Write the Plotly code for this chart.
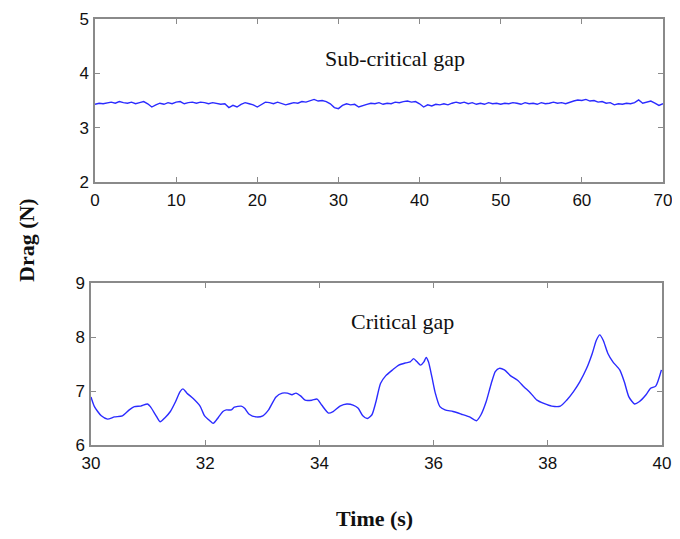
import plotly.graph_objects as go

# ---- Data ----
drag_top = [
    3.43, 3.45, 3.44, 3.46, 3.47, 3.45, 3.48, 3.46, 3.45, 3.47,
    3.44, 3.46, 3.48, 3.44, 3.38, 3.42, 3.45, 3.43, 3.46, 3.44,
    3.47, 3.48, 3.44, 3.46, 3.47, 3.45, 3.47, 3.46, 3.44, 3.46,
    3.45, 3.43, 3.44, 3.37, 3.41, 3.38, 3.43, 3.46, 3.44, 3.42,
    3.38, 3.43, 3.47, 3.46, 3.44, 3.47, 3.45, 3.42, 3.44, 3.46,
    3.45, 3.48, 3.47, 3.50, 3.52, 3.49, 3.50, 3.48, 3.44, 3.37,
    3.35, 3.41, 3.44, 3.42, 3.43, 3.38, 3.41, 3.43, 3.45, 3.44,
    3.46, 3.43, 3.45, 3.44, 3.47, 3.46, 3.48, 3.49, 3.47, 3.48,
    3.44, 3.38, 3.42, 3.40, 3.43, 3.42, 3.44, 3.42, 3.45, 3.47,
    3.45, 3.47, 3.44, 3.46, 3.43, 3.45, 3.43, 3.46, 3.44, 3.45,
    3.43, 3.45, 3.44, 3.46, 3.45, 3.43, 3.46, 3.44, 3.45, 3.43,
    3.46, 3.44, 3.45, 3.47, 3.45, 3.46, 3.44, 3.47, 3.49, 3.51,
    3.50, 3.52, 3.49, 3.50, 3.47, 3.48, 3.45, 3.46, 3.42, 3.44,
    3.43, 3.45, 3.44, 3.46, 3.51, 3.45, 3.47, 3.49, 3.45, 3.41,
    3.44,
]
time_top = [i * 0.5 for i in range(len(drag_top))]

time_bottom = [
    30.00, 30.06, 30.18, 30.29, 30.41, 30.55, 30.67, 30.76, 30.87, 30.99,
    31.04, 31.13, 31.21, 31.30, 31.39, 31.48, 31.56, 31.61, 31.68, 31.79,
    31.91, 31.99, 32.08, 32.14, 32.23, 32.31, 32.37, 32.46, 32.51, 32.63,
    32.69, 32.77, 32.89, 33.01, 33.11, 33.24, 33.35, 33.44, 33.52, 33.59,
    33.67, 33.75, 33.87, 33.96, 34.04, 34.16, 34.24, 34.36, 34.48, 34.59,
    34.68, 34.76, 34.84, 34.92, 34.99, 35.07, 35.16, 35.28, 35.39, 35.51,
    35.59, 35.65, 35.71, 35.77, 35.83, 35.87, 35.91, 35.97, 36.03, 36.11,
    36.20, 36.34, 36.49, 36.63, 36.75, 36.83, 36.92, 37.01, 37.08, 37.15,
    37.24, 37.35, 37.47, 37.58, 37.70, 37.81, 37.93, 38.07, 38.22, 38.33,
    38.45, 38.56, 38.68, 38.78, 38.85, 38.91, 38.97, 39.05, 39.14, 39.26,
    39.34, 39.42, 39.52, 39.60, 39.72, 39.80, 39.89, 39.99,
]
drag_bottom = [
    6.89, 6.71, 6.54, 6.48, 6.52, 6.54, 6.65, 6.71, 6.72, 6.76,
    6.71, 6.56, 6.43, 6.51, 6.62, 6.80, 6.99, 7.04, 6.96, 6.86,
    6.72, 6.54, 6.45, 6.40, 6.51, 6.62, 6.65, 6.65, 6.70, 6.72,
    6.68, 6.57, 6.52, 6.54, 6.65, 6.89, 6.96, 6.96, 6.93, 6.96,
    6.91, 6.83, 6.83, 6.85, 6.74, 6.59, 6.62, 6.72, 6.76, 6.74,
    6.68, 6.54, 6.49, 6.56, 6.80, 7.14, 7.28, 7.39, 7.48, 7.52,
    7.54, 7.60, 7.54, 7.48, 7.54, 7.62, 7.54, 7.26, 6.96, 6.71,
    6.65, 6.62, 6.57, 6.52, 6.45, 6.56, 6.80, 7.14, 7.36, 7.42,
    7.39, 7.28, 7.20, 7.08, 6.96, 6.83, 6.77, 6.72, 6.72, 6.83,
    6.99, 7.17, 7.42, 7.70, 7.94, 8.04, 7.94, 7.70, 7.54, 7.39,
    7.17, 6.89, 6.76, 6.80, 6.93, 7.05, 7.09, 7.39,
]

top_xticks = [0, 10, 20, 30, 40, 50, 60, 70]
top_yticks = [2, 3, 4, 5]
bottom_xticks = [30, 32, 34, 36, 38, 40]
bottom_yticks = [6, 7, 8, 9]

W, H = 664, 523
OFF = 8  # page body margin


def px(x):
    return (x - OFF) / W


def py(y):
    return 1 - (y - OFF) / H


LINE = "#2b2bff"
SERIF = "Liberation Serif, Times New Roman, serif"

fig = go.Figure()
fig.add_trace(go.Scatter(x=time_top, y=drag_top, mode="lines",
                         line=dict(color=LINE, width=1.4), xaxis="x", yaxis="y",
                         showlegend=False))
fig.add_trace(go.Scatter(x=time_bottom, y=drag_bottom, mode="lines",
                         line=dict(color=LINE, width=1.4, shape="spline", smoothing=0.6),
                         xaxis="x2", yaxis="y2", showlegend=False))

tickfont = dict(family="Liberation Sans, Arial", size=17, color="#111")
common = dict(showline=True, linecolor="#8a8a8a", linewidth=1.5, mirror="ticks",
              ticks="inside", ticklen=5, tickcolor="#8a8a8a", tickwidth=1,
              showgrid=False, zeroline=False, tickfont=tickfont, automargin=False,
              ticklabeloverflow="allow")

fig.update_layout(
    width=W, height=H,
    margin=dict(l=0, r=0, t=0, b=0, pad=0),
    plot_bgcolor="white", paper_bgcolor="white",
    xaxis=dict(domain=[px(95), px(663)], range=[0, 70], tickvals=top_xticks,
               anchor="y", ticklabelstandoff=2, **common),
    yaxis=dict(domain=[py(182), py(19)], range=[2, 5], tickvals=top_yticks,
               anchor="x", ticklabelstandoff=1, **common),
    xaxis2=dict(domain=[px(91), px(662)], range=[30, 40], tickvals=bottom_xticks,
                anchor="y2", ticklabelstandoff=2, **common),
    yaxis2=dict(domain=[py(445), py(283)], range=[6, 9], tickvals=bottom_yticks,
                anchor="x2", ticklabelstandoff=1, **common),
    annotations=[
        dict(text="Sub-critical gap", x=px(395), y=py(58), xref="paper", yref="paper",
             xanchor="center", yanchor="middle", showarrow=False,
             font=dict(family=SERIF, size=22, color="#111")),
        dict(text="Critical gap", x=px(402), y=py(321), xref="paper", yref="paper",
             xanchor="center", yanchor="middle", showarrow=False,
             font=dict(family=SERIF, size=22, color="#111")),
        dict(text="<b>Drag (N)</b>", x=px(26), y=py(240), xref="paper", yref="paper",
             xanchor="center", yanchor="middle", showarrow=False, textangle=-90,
             font=dict(family=SERIF, size=22, color="#111")),
        dict(text="<b>Time (s)</b>", x=px(374), y=py(518), xref="paper", yref="paper",
             xanchor="center", yanchor="middle", showarrow=False,
             font=dict(family=SERIF, size=22, color="#111")),
    ],
)

fig.write_html("out.html")
